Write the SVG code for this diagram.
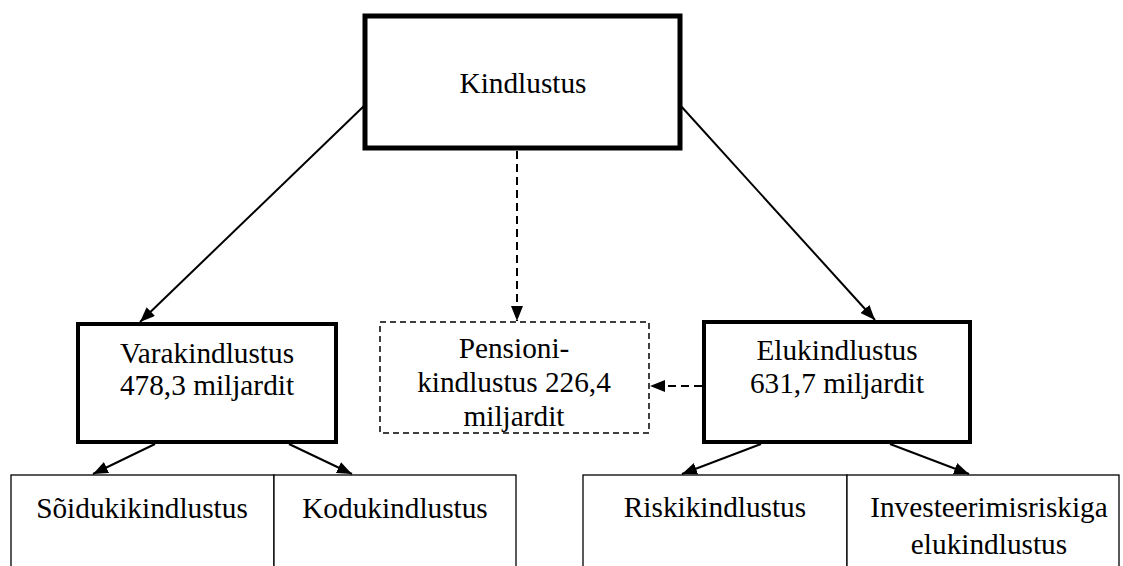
<svg xmlns="http://www.w3.org/2000/svg" width="1123" height="566" viewBox="0 0 1123 566">
<style>
text{font-family:"Liberation Serif","Times New Roman",serif;font-size:29.3px;fill:#000;text-anchor:middle}
.thick{fill:#fff;stroke:#000;stroke-width:5}
.med{fill:#fff;stroke:#000;stroke-width:4}
.thin{fill:#fff;stroke:#000;stroke-width:1.3}
.dash{fill:#fff;stroke:#000;stroke-width:1.5;stroke-dasharray:6 4}
.conn{stroke:#000;stroke-width:2;fill:none;marker-end:url(#ah)}
.dconn{stroke:#000;stroke-width:2;fill:none;stroke-dasharray:8 5;marker-end:url(#ah)}
</style>
<defs>
<marker id="ah" viewBox="0 0 15 12" refX="15" refY="6" markerWidth="15" markerHeight="12" markerUnits="userSpaceOnUse" orient="auto">
<path d="M0,0 L15,6 L0,12 Z" fill="#000"/>
</marker>
</defs>
<g id="connectors">
<line class="conn" x1="365" y1="105" x2="140" y2="322"/>
<line class="conn" x1="680" y1="105" x2="875" y2="320"/>
<line class="dconn" x1="517" y1="151" x2="517" y2="321"/>
<line class="dconn" x1="702" y1="386" x2="650" y2="386"/>
<line class="conn" x1="155" y1="444" x2="93" y2="474"/>
<line class="conn" x1="289" y1="444" x2="352" y2="474"/>
<line class="conn" x1="761" y1="444" x2="682" y2="474"/>
<line class="conn" x1="890" y1="444" x2="969" y2="474"/>
</g>
<g id="kindlustus">
<rect class="thick" x="365" y="16" width="315" height="132"/>
<text x="523" y="93">Kindlustus</text>
</g>
<g id="varakindlustus">
<rect class="med" x="78" y="324" width="258" height="118"/>
<text x="207" y="363">Varakindlustus</text>
<text x="207" y="395">478,3 miljardit</text>
</g>
<g id="pensionikindlustus">
<rect class="dash" x="380" y="322" width="269" height="111"/>
<text x="514" y="358">Pensioni-</text>
<text x="514" y="392">kindlustus 226,4</text>
<text x="514" y="426">miljardit</text>
</g>
<g id="elukindlustus">
<rect class="med" x="704" y="322" width="266" height="120"/>
<text x="837" y="360">Elukindlustus</text>
<text x="837" y="393">631,7 miljardit</text>
</g>
<g id="soidukikindlustus">
<rect class="thin" x="11" y="475" width="263" height="100"/>
<text x="142" y="518">Sõidukikindlustus</text>
</g>
<g id="kodukindlustus">
<rect class="thin" x="274" y="475" width="242" height="100"/>
<text x="395" y="518">Kodukindlustus</text>
</g>
<g id="riskikindlustus">
<rect class="thin" x="583" y="475" width="264" height="100"/>
<text x="715" y="517">Riskikindlustus</text>
</g>
<g id="investeerimisriskiga">
<rect class="thin" x="847" y="475" width="272" height="100"/>
<text x="989" y="517">Investeerimisriskiga</text>
<text x="989" y="554">elukindlustus</text>
</g>
</svg>
